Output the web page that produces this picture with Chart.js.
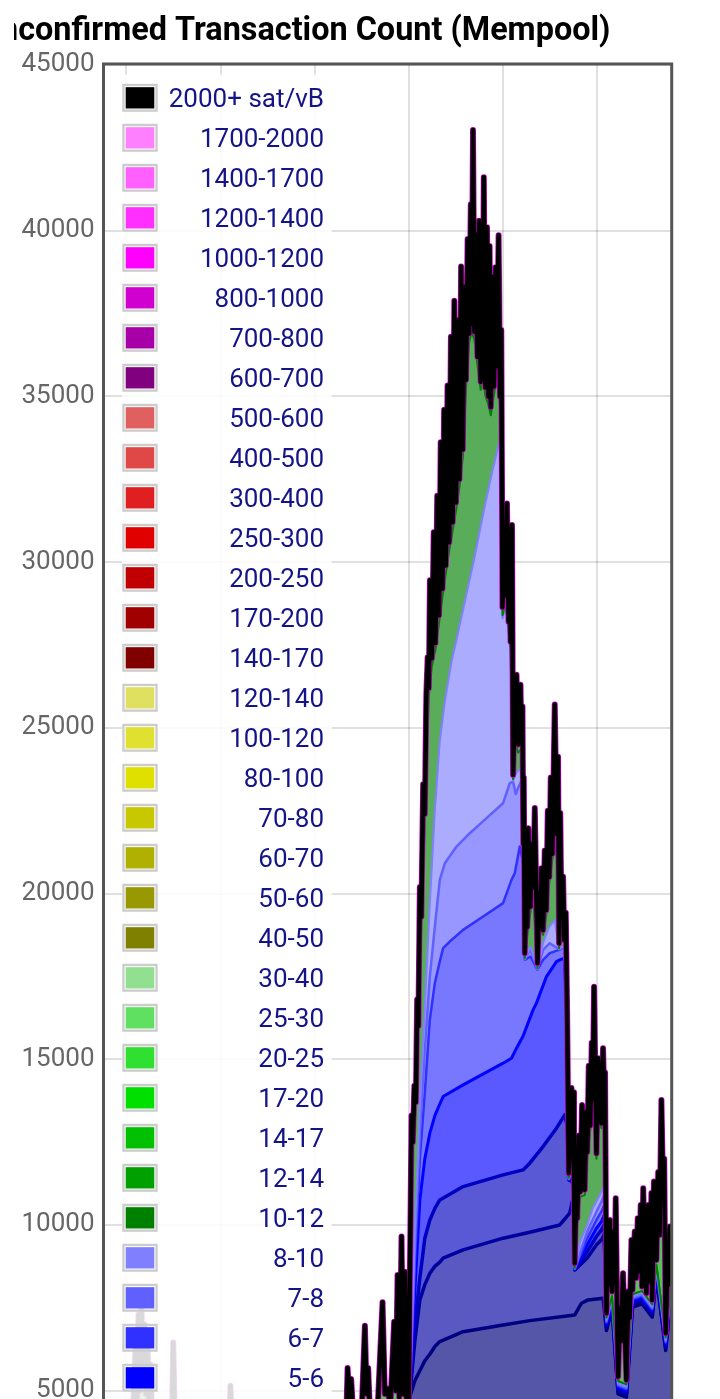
<!DOCTYPE html>
<html>
<head>
<meta charset="utf-8">
<title>Unconfirmed Transaction Count (Mempool)</title>
<script src="https://cdn.jsdelivr.net/npm/chart.js@4.4.1/dist/chart.umd.min.js"></script>
<style>
  html, body { margin: 0; padding: 0; background: #fff; }
  #wrap { position: relative; width: 720px; height: 1399px; overflow: hidden; }
  #clip { position: absolute; left: 14px; top: 0; width: 706px; height: 1399px; overflow: hidden; }
  #mempool { position: absolute; left: -74px; top: 0; }
</style>
</head>
<body>
<div id="wrap"><div id="clip"><canvas id="mempool" width="780" height="1600"></canvas></div></div>
<script>
// x = hours from the first day line, y = unconfirmed transactions (cumulative per fee level)
const dayTicks = [0, 24, 48, 72, 96, 120];

const legendLabels = ['2000+ sat/vB', '1700-2000', '1400-1700', '1200-1400', '1000-1200', '800-1000',
  '700-800', '600-700', '500-600', '400-500', '300-400', '250-300', '200-250', '170-200', '140-170',
  '120-140', '100-120', '80-100', '70-80', '60-70', '50-60', '40-50', '30-40', '25-30', '20-25',
  '17-20', '14-17', '12-14', '10-12', '8-10', '7-8', '6-7', '5-6', '4-5', '3-4', '2-3', '1-2'];
const legendColors = ['#000000', '#ff80ff', '#ff60ff', '#ff30ff', '#ff00ff', '#d000d0', '#a800a8',
  '#800080', '#e06060', '#e04848', '#e02020', '#e00000', '#c00000', '#a00000', '#800000', '#e0e060',
  '#e0e030', '#e0e000', '#c8c800', '#b0b000', '#989800', '#808000', '#90e090', '#60e060', '#30e030',
  '#00e000', '#00c000', '#00a000', '#008000', '#8080ff', '#6060ff', '#3030ff', '#0000ff', '#0000c0',
  '#0000a0', '#000080', '#000060'];

// total count (top of 2000+)
const totalCount = [
  [-5.86, 3400], [-4.20, 3700], [-2.17, 3500], [-0.13, 3900], [1.66, 4300], [2.29, 6300], [2.68, 4600],
  [3.06, 7300], [3.44, 5000], [3.82, 7450], [4.20, 5200], [4.59, 7000], [4.97, 4900], [5.35, 6500],
  [5.73, 4600], [6.11, 5800], [6.50, 4200], [8.54, 3800], [10.57, 4000], [11.59, 4100], [11.92, 6450],
  [12.36, 3900], [16.18, 3600], [20.0, 3800], [23.31, 4000], [26.24, 4000], [26.50, 5150], [26.88, 3900],
  [31.47, 3600], [36.56, 3900], [41.66, 4100], [46.75, 4000], [51.85, 4300], [55.16, 4400],
  [56.05, 4300], [56.36, 5680], [56.82, 4700], [57.27, 5350], [57.83, 4200], [60.0, 4500], [60.77, 6960],
  [61.22, 4900], [61.61, 5680], [62.04, 4400], [64.08, 4600], [65.27, 7670], [65.86, 4900], [66.57, 5060],
  [67.26, 4500], [68.23, 7080], [68.66, 5000], [69.10, 8490], [69.53, 4800], [70.11, 9650], [70.57, 4900],
  [70.96, 8590], [71.29, 4900], [71.72, 4300], [71.98, 4700],
  [72.18, 7800], [72.43, 10500], [72.66, 13300], [72.99, 12500], [73.38, 14200], [73.76, 13700],
  [74.09, 16800], [74.40, 16000], [74.78, 20200], [75.16, 19300], [75.62, 23300], [76.05, 22400],
  [76.43, 26000], [76.77, 27130], [77.07, 26200],
  [77.35, 29450], [77.83, 27100], [78.32, 30900], [78.75, 27560], [79.21, 32000], [79.67, 28400],
  [80.10, 33620], [80.54, 29200], [80.97, 34600], [81.40, 29900], [81.84, 35330], [82.27, 30600],
  [82.70, 36800], [83.14, 31200], [83.57, 37885], [84.00, 31800], [84.43, 37300], [84.87, 32500],
  [85.30, 38920], [85.73, 33400], [86.14, 38300], [86.55, 35500], [86.96, 39750], [87.36, 36900],
  [87.77, 40800], [88.03, 37200], [88.33, 43040], [88.69, 36950], [89.05, 39880], [89.45, 36200],
  [89.86, 40300], [90.29, 35440], [90.65, 38600], [90.83, 36000], [91.08, 41610], [91.47, 35270],
  [91.90, 40100], [92.28, 35000], [92.56, 39540], [92.87, 34680], [93.28, 38600], [93.68, 35300],
  [94.09, 38900], [94.40, 35920], [94.86, 39860], [95.21, 35000], [95.54, 37000], [95.85, 28640],
  [96.40, 30200], [96.70, 29000], [96.99, 31770], [97.40, 28200], [97.76, 30500], [97.91, 27600],
  [98.27, 31120], [98.55, 23580], [98.98, 26000], [99.21, 24800], [99.42, 26600], [99.87, 24500],
  [100.43, 26300], [100.69, 24600], [100.94, 25640], [101.15, 21500], [101.27, 23500], [101.53, 18200],
  [101.91, 20400], [102.17, 19000], [102.42, 21970], [102.98, 19610], [103.44, 21500], [103.69, 20200],
  [104.08, 22580], [104.77, 17900], [105.22, 20000], [105.48, 19200], [105.78, 20765], [106.19, 18900],
  [106.62, 21300], [107.01, 19500], [107.39, 22500], [107.77, 20500], [108.15, 23500], [108.54, 21200],
  [109.17, 25700], [109.68, 21800], [110.01, 24130], [110.27, 18500], [110.57, 22430], [110.83, 19800],
  [111.29, 20510], [111.59, 18600], [111.98, 19420], [112.31, 16500], [112.74, 11560], [113.43, 14130],
  [113.63, 12800], [113.84, 14000], [114.07, 11500], [114.27, 8845], [114.65, 11200], [114.91, 10200],
  [115.29, 12700], [115.67, 11000], [116.13, 13620], [116.82, 11060], [117.20, 13400], [117.45, 12200],
  [117.84, 14800], [118.22, 13000], [118.60, 15500], [118.86, 13800], [119.19, 17190], [119.80, 12160],
  [120.20, 15030], [120.59, 13300], [120.89, 14200], [121.07, 13070], [121.48, 15333], [121.78, 13800],
  [121.99, 14600], [122.35, 7336],
  [122.68, 9300], [122.93, 8200], [123.19, 10150], [123.77, 7990], [124.21, 9800], [124.46, 8800],
  [124.71, 10806], [125.30, 5423], [125.86, 7500], [126.12, 6500], [126.57, 8543], [127.44, 5323],
  [127.90, 8000], [128.28, 7200], [128.72, 9548], [129.00, 8040], [129.56, 9800], [129.94, 8400],
  [130.32, 10200], [130.70, 8600], [131.08, 10600], [131.42, 8140], [131.72, 11108], [132.10, 9000],
  [132.32, 10300], [132.54, 7940], [133.00, 10600], [133.38, 8300], [133.81, 10960], [134.02, 7737],
  [134.45, 11310], [135.09, 8945], [135.54, 11600], [135.88, 9700], [136.36, 13773], [136.77, 11057],
  [137.07, 12000], [137.45, 6733], [137.96, 9000], [138.22, 8200], [138.47, 9950], [138.78, 8600],
  [138.98, 9300]
];

// cumulative count up to 12 sat/vB (top of 10-12)
const cumTo12 = [
  [-5.86, 3350], [71.72, 3400], [71.98, 3500], [72.23, 5000], [72.66, 11000], [72.99, 12300],
  [73.76, 13500], [74.40, 15800], [75.16, 19100], [76.05, 22200], [77.07, 25950], [77.83, 26850],
  [78.75, 27350], [79.67, 28150], [80.54, 28950], [81.40, 29650], [82.27, 30350], [83.14, 30950],
  [84.00, 31550], [84.87, 32250], [85.73, 33150], [86.55, 35250], [87.36, 36650], [88.03, 36950],
  [88.69, 36700], [89.45, 35950], [90.29, 35200], [90.83, 35750], [91.47, 35020], [92.28, 34750],
  [92.87, 34430], [93.68, 35050], [94.40, 35670], [95.21, 34750], [95.85, 28400], [96.70, 28750],
  [97.40, 27950], [97.91, 27350], [98.55, 23450], [99.21, 24550], [99.87, 24250], [100.69, 24350],
  [101.15, 21250], [101.53, 18050], [102.17, 18750], [102.98, 19450], [103.69, 19950], [104.77, 17750],
  [105.48, 18950], [106.19, 18750], [107.01, 19350], [107.77, 20300], [108.54, 21000], [109.17, 21500],
  [109.68, 21100], [110.27, 18350], [110.83, 19650], [111.59, 18450], [112.31, 16350], [112.74, 11420],
  [113.63, 12650], [114.07, 11350], [114.27, 8700], [114.91, 10050], [115.67, 10850], [116.82, 10900],
  [117.45, 12050], [118.22, 12850], [118.86, 13650], [119.80, 12000], [120.59, 13150], [121.07, 12920],
  [121.78, 13650], [122.35, 7200], [123.77, 7860], [125.30, 5290], [127.44, 5190], [129.00, 7910],
  [131.42, 8010], [134.02, 7600], [135.09, 8810], [137.45, 6600], [138.98, 8370]
];

// cumulative count up to 10 sat/vB (top of 8-10)
const cumTo10 = [
  [-5.86, 3300], [71.98, 3400], [72.23, 4950], [73.5, 9800], [74.78, 13500], [76.05, 16500],
  [77.33, 19700], [78.6, 22500], [79.87, 24600], [81.15, 25800], [82.93, 27040], [84.13, 27656],
  [86.24, 28800], [88.54, 30040], [91.08, 31550], [93.38, 32800], [95.0, 33600], [95.21, 33750],
  [95.85, 28300], [96.70, 28650], [97.40, 27850], [97.91, 27250], [98.55, 23400], [99.21, 23600],
  [99.87, 23700], [100.69, 23800], [101.15, 21150], [101.53, 18030], [102.98, 18400], [104.77, 17730],
  [106.19, 18500], [107.77, 19000], [109.17, 19200], [110.27, 18330], [111.59, 18430], [112.31, 16330],
  [112.74, 11400], [113.63, 11900], [114.07, 11250], [114.27, 8690], [115.67, 9500], [117.45, 10000],
  [118.86, 10500], [119.80, 10700], [121.07, 11000], [121.78, 11200], [122.35, 7136], [123.77, 7790],
  [125.30, 5223], [127.44, 5123], [129.00, 7840], [131.42, 7940], [134.02, 7537], [135.09, 8745],
  [137.45, 6533], [138.98, 8300]
];

// cumulative count up to 8 sat/vB (top of 7-8)
const cumTo8 = [
  [-5.86, 3250], [71.98, 3350], [72.23, 4930], [73.5, 9300], [74.78, 12800], [76.05, 15300],
  [77.33, 17500], [78.6, 19000], [79.87, 20413], [81.15, 20916], [84.13, 21418], [87.52, 21820],
  [91.77, 22273], [96.0, 22725], [97.71, 23329], [98.55, 23380], [99.21, 23000], [99.87, 23200],
  [100.69, 23400], [101.15, 21000], [101.53, 18020], [102.98, 18300], [104.77, 17720], [106.19, 18300],
  [107.90, 18500], [110.27, 18320], [111.59, 18420], [112.31, 16320], [112.74, 11390], [113.63, 11700],
  [114.07, 11200], [114.27, 8680], [117.45, 9800], [119.80, 10400], [121.07, 10700], [121.78, 10900],
  [122.35, 7096], [123.77, 7750], [125.30, 5183], [127.44, 5083], [129.00, 7800], [131.42, 7900],
  [134.02, 7497], [135.09, 8705], [137.45, 6493], [138.98, 8260]
];

// cumulative count up to 7 sat/vB (top of 6-7)
const cumTo7 = [
  [-5.86, 3200], [71.98, 3300], [72.23, 4910], [73.5, 8800], [74.78, 12000], [76.05, 14000],
  [77.33, 16200], [78.6, 17300], [79.87, 17950], [80.71, 18351], [82.42, 18551], [85.81, 18904],
  [90.91, 19306], [96.0, 19709], [98.14, 20413], [98.98, 20615], [100.26, 21418], [101.15, 20900],
  [101.53, 18000], [102.98, 18100], [104.77, 17700], [106.19, 18000], [107.90, 18200], [110.27, 18300],
  [111.59, 18400], [112.31, 16310], [112.74, 11380], [113.63, 11500], [114.07, 11150], [114.27, 8670],
  [117.45, 9600], [119.80, 10150], [121.07, 10400], [121.78, 10600], [122.35, 7056], [123.77, 7710],
  [125.30, 5143], [127.44, 5043], [129.00, 7760], [131.42, 7860], [134.02, 7457], [135.09, 8665],
  [137.45, 6453], [138.98, 8220]
];

// cumulative count up to 6 sat/vB (top of 5-6)
const cumTo6 = [
  [-5.86, 3100], [71.98, 3200], [72.23, 4890], [73.5, 8000], [74.78, 10755], [76.05, 12000],
  [77.33, 12768], [78.6, 13300], [79.87, 13650], [80.71, 13873], [85.81, 14226], [96.0, 14881],
  [98.14, 15030], [99.42, 15333], [101.10, 15700], [103.64, 16489], [104.51, 16692], [107.06, 17494],
  [109.61, 17947], [110.45, 18000], [111.59, 18050], [112.31, 16300], [112.74, 11370], [113.63, 11400],
  [114.07, 11100], [114.27, 8660], [117.45, 9400], [119.80, 9900], [121.07, 10100], [121.78, 10300],
  [122.35, 7006], [123.77, 7660], [125.30, 5093], [127.44, 4993], [129.00, 7710], [131.42, 7810],
  [134.02, 7407], [135.09, 8615], [137.45, 6403], [138.98, 8170]
];

// cumulative count up to 5 sat/vB (top of 4-5)
const cumTo5 = [
  [-5.86, 3000], [71.98, 3100], [72.23, 4870], [73.5, 7000], [74.78, 8400], [76.05, 9600],
  [77.33, 10150], [78.6, 10500], [79.87, 10755], [85.81, 11157], [96.0, 11510], [101.10, 11660],
  [102.80, 11863], [106.19, 12364], [109.61, 12919], [111.72, 13320], [112.31, 13000], [112.74, 11360],
  [113.63, 11300], [114.07, 11050], [114.27, 8650], [117.45, 9200], [119.80, 9650], [121.07, 9850],
  [121.78, 10000], [122.35, 6956], [123.77, 7610], [125.30, 5043], [127.44, 4943], [129.00, 7660],
  [131.42, 7760], [134.02, 7357], [135.09, 8565], [137.45, 6353], [138.98, 8120]
];

// cumulative count up to 4 sat/vB (top of 3-4)
const cumTo4 = [
  [-5.86, 2900], [71.98, 3000], [72.23, 4850], [73.5, 6500], [74.78, 7737], [76.05, 8200],
  [77.33, 8543], [78.6, 8750], [79.87, 8880], [80.71, 8996], [85.81, 9246], [96.0, 9600],
  [102.80, 9780], [110.45, 10000], [112.99, 10354], [113.63, 10700], [114.07, 10800], [114.27, 8640],
  [117.45, 9000], [119.80, 9400], [121.07, 9550], [121.78, 9700], [122.35, 6906], [123.77, 7560],
  [125.30, 4993], [127.44, 4893], [129.00, 7610], [131.42, 7710], [134.02, 7307], [135.09, 8515],
  [137.45, 6303], [138.98, 8070]
];

// cumulative count up to 3 sat/vB (top of 2-3)
const cumTo3 = [
  [-5.86, 2500], [71.98, 2800], [72.23, 4820], [73.5, 5300], [74.78, 5600], [76.05, 5900],
  [77.33, 6100], [78.6, 6330], [79.87, 6480], [85.81, 6780], [96.0, 6983], [102.80, 7113],
  [114.27, 7285], [115.97, 7637], [117.66, 7737], [121.48, 7790], [122.35, 6816], [123.77, 7470],
  [125.30, 4903], [127.44, 4803], [129.00, 7520], [131.42, 7620], [134.02, 7217], [135.09, 8425],
  [137.45, 6213], [138.98, 7980]
];

const pts = arr => arr.map(([x, y]) => ({ x, y }));

// upper band first; line colour, opaque fill colour (band colour at ~65% over white)
const bands = [
  { data: cumTo12, line: '#008000', fill: 'rgb(89,172,89)', width: 2 },
  { data: cumTo10, line: '#8080ff', fill: 'rgb(172,172,255)', width: 2 },
  { data: cumTo8, line: '#6060ff', fill: 'rgb(151,151,255)', width: 2.5 },
  { data: cumTo7, line: '#3030ff', fill: 'rgb(120,120,255)', width: 2.5 },
  { data: cumTo6, line: '#0000ff', fill: 'rgb(89,89,255)', width: 3 },
  { data: cumTo5, line: '#0000c0', fill: 'rgb(89,89,214)', width: 3.5 },
  { data: cumTo4, line: '#0000a0', fill: 'rgb(89,89,193)', width: 3.5 },
  { data: cumTo3, line: '#000080', fill: 'rgb(86,86,168)', width: 3.5 }
];

const clear = 'rgba(0,0,0,0)';
const datasets = [
  { data: pts(totalCount), borderColor: '#000', borderWidth: 4.5, fill: false },
  { data: pts(totalCount), borderColor: '#c000c0', borderWidth: 6, fill: false },
  ...bands.map(b => ({ data: pts(b.data), borderColor: b.line, borderWidth: b.width, fill: false })),
  ...bands.slice().reverse().map(b => ({ data: pts(b.data), borderColor: clear, borderWidth: 1, backgroundColor: b.fill, fill: 'origin' })),
  { data: pts(totalCount), borderColor: clear, borderWidth: 1, backgroundColor: 'rgb(89,193,89)', fill: 'origin' }
];

const framePlugin = {
  id: 'frame',
  afterDraw(chart) {
    const { ctx, chartArea: a } = chart;
    ctx.save();
    ctx.strokeStyle = '#555';
    ctx.lineWidth = 3;
    ctx.strokeRect(a.left, a.top - 1, a.right - a.left, a.bottom - a.top + 1);
    ctx.restore();
  }
};

const legendPlugin = {
  id: 'feeLegend',
  afterDraw(chart) {
    const { ctx, chartArea: a } = chart;
    const x0 = a.left, y0 = a.top;
    ctx.save();
    ctx.fillStyle = 'rgba(255,255,255,0.85)';
    ctx.fillRect(x0 + 18.5, y0 + 9.5, 209.7, 18 + legendLabels.length * 40);
    ctx.font = '26px Roboto';
    ctx.textAlign = 'right';
    ctx.textBaseline = 'alphabetic';
    legendLabels.forEach((label, i) => {
      const top = y0 + 18.8 + i * 40;
      ctx.strokeStyle = '#cccccc';
      ctx.lineWidth = 2.3;
      ctx.strokeRect(x0 + 19.95, top + 1.15, 33.1, 25.7);
      ctx.fillStyle = legendColors[i];
      ctx.fillRect(x0 + 22.2, top + 3.4, 28.6, 21.3);
      ctx.fillStyle = '#141488';
      ctx.fillText(label, x0 + 220.5, top + 23.2);
    });
    ctx.restore();
  }
};

const gridStyle = { color: 'rgba(0,0,0,0.12)', lineWidth: 2, drawTicks: false };

new Chart(document.getElementById('mempool'), {
  type: 'line',
  data: { datasets },
  options: {
    responsive: false,
    animation: false,
    events: [],
    layout: { padding: { left: 38.7, right: 48.3, top: 0, bottom: 43.65 } },
    elements: {
      point: { radius: 0 },
      line: { tension: 0, borderJoinStyle: 'round', borderCapStyle: 'round' }
    },
    plugins: {
      legend: { display: false },
      tooltip: { enabled: false },
      title: {
        display: true,
        text: 'Unconfirmed Transaction Count (Mempool)',
        align: 'start',
        color: '#000',
        font: { family: 'Roboto', size: 32.4, weight: 'bold' },
        padding: { top: 12, bottom: 14.1 }
      }
    },
    scales: {
      x: {
        type: 'linear',
        min: -5.86,
        max: 138.98,
        z: 1,
        afterBuildTicks: axis => { axis.ticks = dayTicks.map(v => ({ value: v })); },
        afterFit: axis => { axis.height = 0; },
        ticks: { display: false },
        grid: gridStyle,
        border: { display: false }
      },
      y: {
        min: 0,
        max: 45000,
        z: 1,
        afterFit: axis => { axis.width = 124.8; },
        ticks: {
          stepSize: 5000,
          color: '#666',
          padding: 9,
          font: { family: 'Roboto', size: 26 },
          callback: v => String(v)
        },
        grid: gridStyle,
        border: { display: false }
      }
    }
  },
  plugins: [framePlugin, legendPlugin]
});
</script>
</body>
</html>
